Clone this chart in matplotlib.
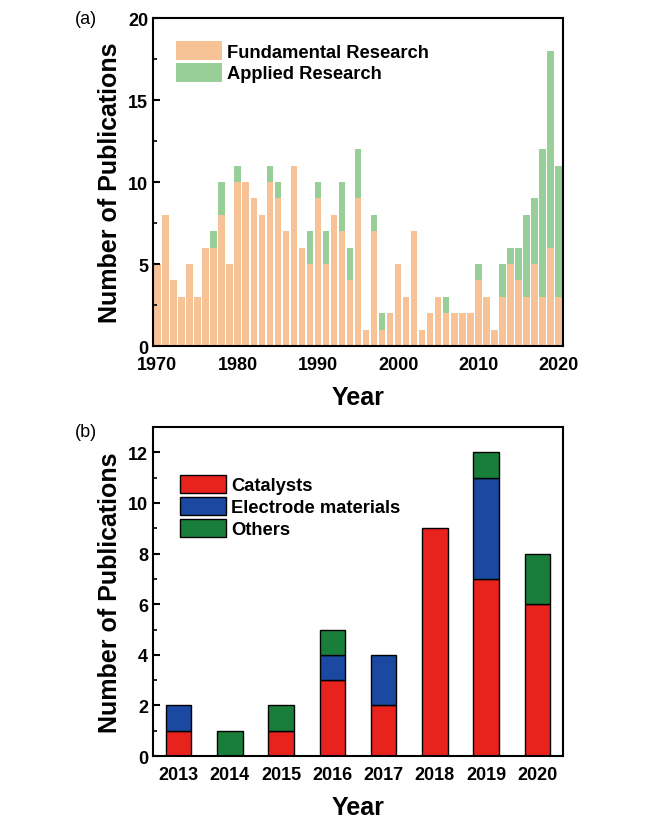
import numpy as np
import matplotlib
matplotlib.use("Agg")
import matplotlib.pyplot as plt
from matplotlib.patches import Patch
from matplotlib.ticker import MultipleLocator

plt.rcParams['font.family'] = ['Liberation Sans', 'DejaVu Sans']

# panel (a): publications per year
years_a = list(range(1970, 2021))
fundamental = [5, 8, 4, 3, 5, 3, 6, 6, 8, 5,
               10, 10, 9, 8, 10, 9, 7, 11, 6, 5,
               9, 5, 8, 7, 4, 9, 1, 7, 1, 2,
               5, 3, 7, 1, 2, 3, 2, 2, 2, 2,
               4, 3, 1, 3, 5, 4, 3, 5, 3, 6,
               3]
applied = [0, 0, 0, 0, 0, 0, 0, 1, 2, 0,
           1, 0, 0, 0, 1, 1, 0, 0, 0, 2,
           1, 2, 0, 3, 2, 3, 0, 1, 1, 0,
           0, 0, 0, 0, 0, 0, 1, 0, 0, 0,
           1, 0, 0, 2, 1, 2, 5, 4, 9, 12,
           8]
xticks_a = [1970, 1980, 1990, 2000, 2010, 2020]

# panel (b): breakdown of recent applied work
years_b = ['2013', '2014', '2015', '2016', '2017', '2018', '2019', '2020']
catalysts = [1, 0, 1, 3, 2, 9, 7, 6]
electrode = [1, 0, 0, 1, 2, 0, 4, 0]
others = [0, 1, 1, 1, 0, 0, 1, 2]
colors_b = ['#E8221D', '#1B48A0', '#1A7E3B']
names_b = ['Catalysts', 'Electrode materials', 'Others']

fig = plt.figure(figsize=(6.5, 8.28), dpi=100)
ax1 = fig.add_axes([0.2354, 0.5809, 0.6308, 0.3961])
ax2 = fig.add_axes([0.2354, 0.0857, 0.6308, 0.3973])

label_font = dict(fontsize=18, fontweight='bold')
leg_prop = dict(size=13.2, weight='bold')

# --- (a)
fund = np.array(fundamental)
ax1.bar(years_a, fund, width=0.8, color='#F7C396', label='Fundamental Research')
ax1.bar(years_a, applied, width=0.8, bottom=fund, color='#98CF98', label='Applied Research')
ax1.set_xlim(1969.45, 2020.55)
ax1.set_ylim(0, 20)
ax1.set_xticks(xticks_a)
ax1.yaxis.set_major_locator(MultipleLocator(5))
ax1.yaxis.set_minor_locator(MultipleLocator(2.5))
ax1.set_xlabel('Year', labelpad=9, **label_font)
ax1.set_ylabel('Number of Publications', labelpad=4, **label_font)
ax1.legend(loc='upper left', bbox_to_anchor=(0.056, 0.93), frameon=False,
           borderpad=0, borderaxespad=0, handlelength=2.5, handleheight=1.2,
           handletextpad=0.3, labelspacing=0.12, prop=leg_prop)
fig.text(0.115, 0.976, '(a)', fontsize=13, va='center')

# --- (b)
x = np.arange(len(years_b))
bottom = np.zeros(len(years_b))
for vals, col in zip((catalysts, electrode, others), colors_b):
    vals = np.array(vals)
    keep = vals > 0
    ax2.bar(x[keep], vals[keep], bottom=bottom[keep], width=0.5, color=col,
            edgecolor='black', linewidth=1.0)
    bottom = bottom + vals
ax2.set_xlim(-0.5, len(years_b) - 0.5)
ax2.set_ylim(0, 13)
ax2.set_xticks(x)
ax2.set_xticklabels(years_b)
ax2.yaxis.set_major_locator(MultipleLocator(2))
ax2.yaxis.set_minor_locator(MultipleLocator(1))
ax2.set_xlabel('Year', labelpad=9, **label_font)
ax2.set_ylabel('Number of Publications', labelpad=4, **label_font)
handles = [Patch(facecolor=c, edgecolor='black', linewidth=1.0) for c in colors_b]
ax2.legend(handles, names_b, loc='upper left', bbox_to_anchor=(0.066, 0.855),
           frameon=False, borderpad=0, borderaxespad=0, handlelength=2.5,
           handleheight=1.15, handletextpad=0.3, labelspacing=0.15, prop=leg_prop)
fig.text(0.115, 0.478, '(b)', fontsize=13, va='center')

for ax in (ax1, ax2):
    for s in ax.spines.values():
        s.set_linewidth(1.5)
    ax.tick_params(axis='y', which='major', direction='in', length=5, width=1.5)
    ax.tick_params(axis='y', which='minor', direction='in', length=3, width=1.2)
    ax.tick_params(axis='x', length=0, pad=7)
    for lab in ax.get_xticklabels() + ax.get_yticklabels():
        lab.set_fontsize(13)
        lab.set_fontweight('bold')

fig.savefig('out.png', dpi=100)
